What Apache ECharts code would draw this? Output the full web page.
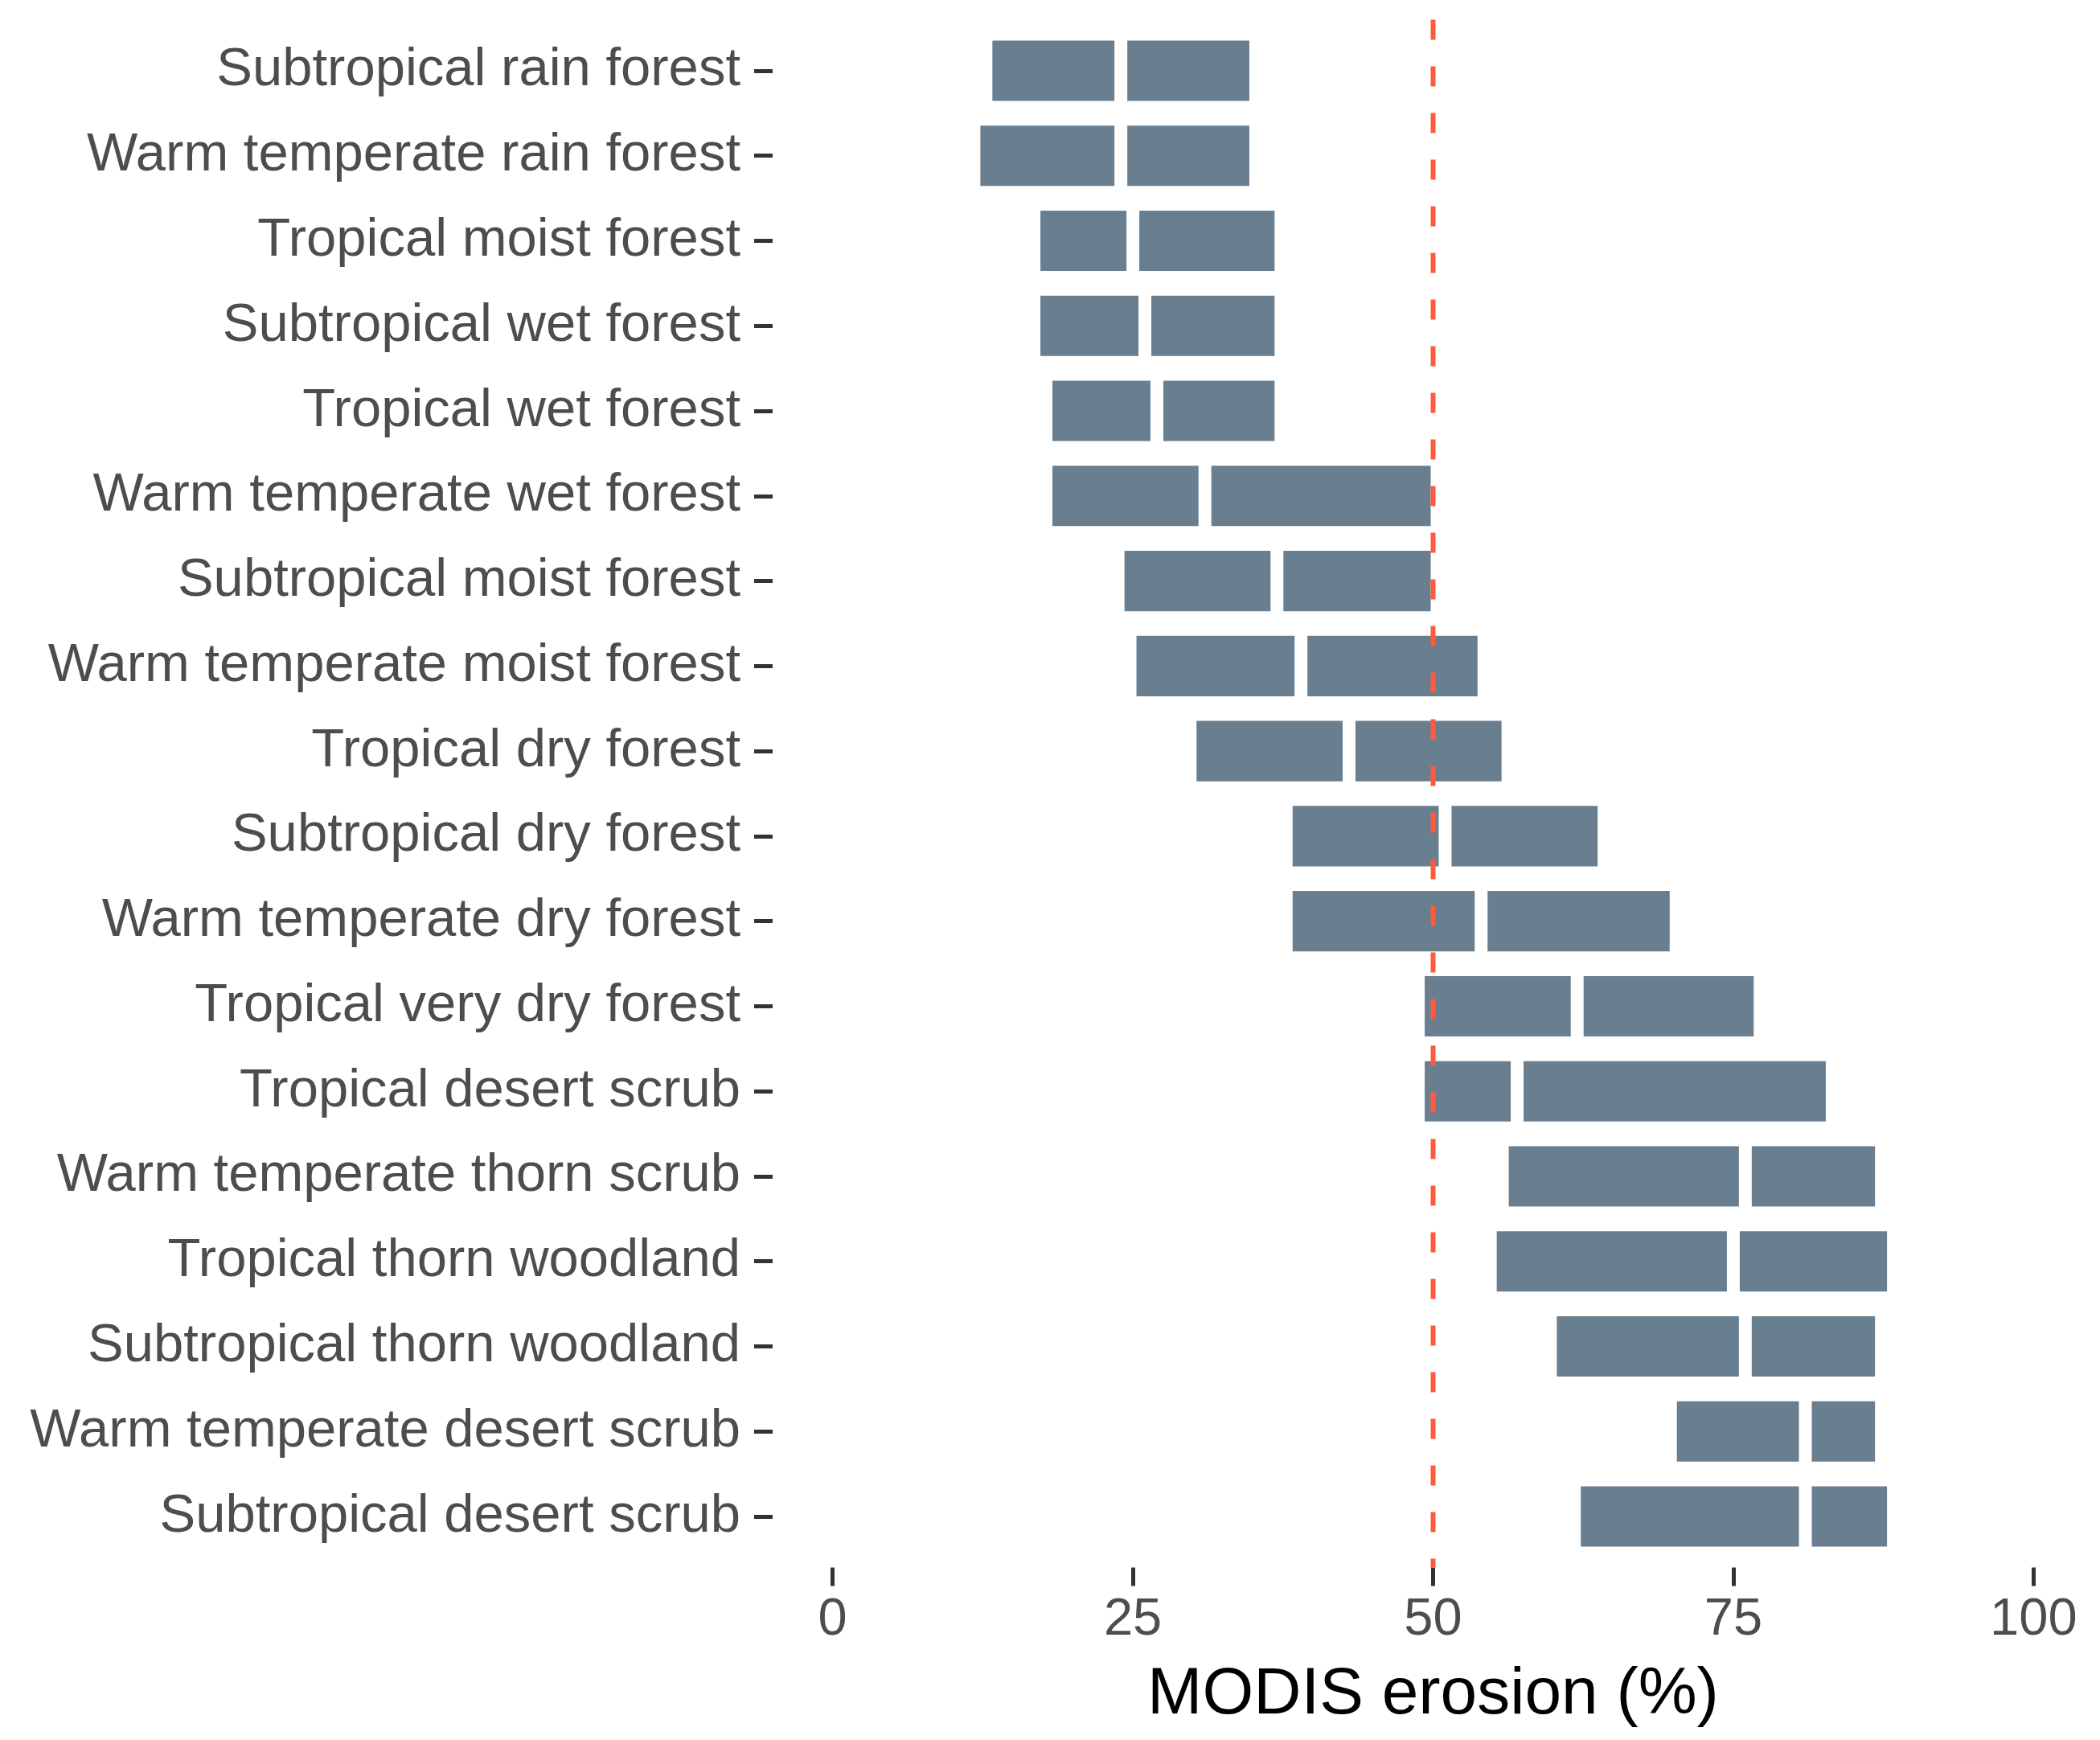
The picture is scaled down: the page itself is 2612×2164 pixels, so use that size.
<!DOCTYPE html>
<html>
<head>
    <meta http-equiv="content-Type" content="text/html; charset=UTF-8" />
    <title>MODIS erosion</title>
    <script src="https://cdn.jsdelivr.net/npm/echarts@6/dist/echarts.min.js" type="text/javascript"></script>
    <style type="text/css">
        html, body { margin: 0; padding: 0; background: #fff; }
        #chartCon { width: 2612px; height: 2164px; }
    </style>
    <script type="text/javascript">
        //生命带类别（自上而下）
        var zones = ["Subtropical rain forest", "Warm temperate rain forest", "Tropical moist forest",
                     "Subtropical wet forest", "Tropical wet forest", "Warm temperate wet forest",
                     "Subtropical moist forest", "Warm temperate moist forest", "Tropical dry forest",
                     "Subtropical dry forest", "Warm temperate dry forest", "Tropical very dry forest",
                     "Tropical desert scrub", "Warm temperate thorn scrub", "Tropical thorn woodland",
                     "Subtropical thorn woodland", "Warm temperate desert scrub", "Subtropical desert scrub"];
        //下限、中位、上限
        var lowVals = [13.3, 12.3, 17.3, 17.3, 18.3, 18.3, 24.3, 25.3, 30.3, 38.3, 38.3, 49.3, 49.3, 56.3, 55.3, 60.3, 70.3, 62.3];
        var medVals = [24, 24, 25, 26, 27, 31, 37, 39, 43, 51, 54, 62, 57, 76, 75, 76, 81, 81];
        var highVals = [34.7, 34.7, 36.8, 36.8, 36.8, 49.8, 49.8, 53.7, 55.7, 63.7, 69.7, 76.7, 82.7, 86.8, 87.8, 86.8, 86.8, 87.8];
        //x轴刻度
        var xTicks = [0, 25, 50, 75, 100];
        var refLine = 50;

        var font = "'Liberation Sans', Arial, Helvetica, sans-serif";

        function init() {
            var myChart = echarts.init(document.getElementById("chartCon"));

            var rows = [];
            var yIdx = [];
            for (var i = 0; i < zones.length; i++) {
                rows.push([i, lowVals[i], medVals[i], highVals[i]]);
                yIdx.push(i);
            }

            //绘制两段矩形，中位处留白
            function renderItem(params, api) {
                var idx = api.value(0);
                var pLo = api.coord([api.value(1), idx]);
                var pMed = api.coord([api.value(2), idx]);
                var pHi = api.coord([api.value(3), idx]);
                var h = api.size([0, 1])[1] * 0.71;
                var half = 8;
                var style = { fill: "#697E8F" };
                return {
                    type: "group",
                    children: [
                        { type: "rect", shape: { x: pLo[0], y: pLo[1] - h / 2, width: pMed[0] - half - pLo[0], height: h }, style: style },
                        { type: "rect", shape: { x: pMed[0] + half, y: pMed[1] - h / 2, width: pHi[0] - pMed[0] - half, height: h }, style: style }
                    ]
                };
            }

            var option = {
                animation: false,
                backgroundColor: "#ffffff",
                grid: { left: 961, right: 8, top: 24.5, bottom: 214.5 },
                xAxis: {
                    type: "value",
                    min: -5,
                    max: 105,
                    name: "MODIS erosion (%)",
                    nameLocation: "middle",
                    nameGap: 118,
                    nameTextStyle: { color: "#000000", fontSize: 82, fontFamily: font },
                    axisLine: { show: false, onZero: false },
                    splitLine: { show: false },
                    axisTick: { show: true, length: 23, customValues: xTicks, lineStyle: { color: "#333333", width: 5 } },
                    axisLabel: { customValues: xTicks, margin: 33, color: "#4D4D4D", fontSize: 65, fontFamily: font }
                },
                yAxis: {
                    type: "value",
                    min: -0.6,
                    max: 17.6,
                    inverse: true,
                    axisLine: { show: false, onZero: false },
                    splitLine: { show: false },
                    axisTick: { show: true, length: 23, customValues: yIdx, lineStyle: { color: "#333333", width: 5 } },
                    axisLabel: {
                        customValues: yIdx,
                        margin: 40,
                        padding: [10, 0, 0, 0],
                        color: "#4D4D4D",
                        fontSize: 67,
                        fontFamily: font,
                        formatter: function (v) { return zones[Math.round(v)]; }
                    }
                },
                series: [
                    {
                        type: "custom",
                        renderItem: renderItem,
                        encode: { x: [1, 2, 3], y: 0 },
                        data: rows
                    },
                    {
                        //参考虚线
                        type: "line",
                        data: [[refLine, -0.6], [refLine, 17.6]],
                        symbol: "none",
                        z: 5,
                        lineStyle: { color: "#FF5A3C", width: 6, type: [25, 33] }
                    }
                ]
            };
            myChart.setOption(option);
        }
    </script>
</head>
<body onload="init();">
    <div id="chartCon"></div>
</body>
</html>
